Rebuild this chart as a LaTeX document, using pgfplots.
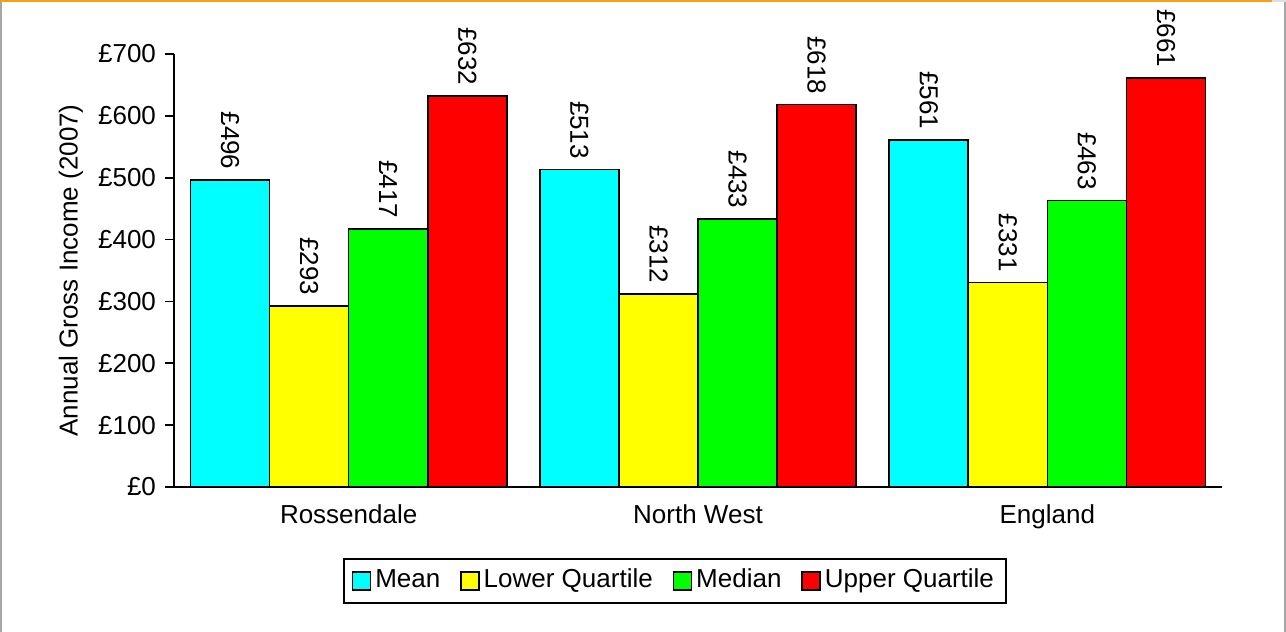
\documentclass[border=0pt]{standalone}
\usepackage{pgfplots}
\pgfplotsset{compat=1.18}
\usepackage{fontspec}
\setmainfont{Liberation Sans}

\definecolor{meanc}{RGB}{0,255,255}
\definecolor{lowq}{RGB}{255,255,0}
\definecolor{medc}{RGB}{0,255,0}
\definecolor{upq}{RGB}{255,0,0}
\definecolor{frameorange}{RGB}{245,160,20}

\begin{document}
\fontsize{13}{15.6}\selectfont
\begin{tikzpicture}
\useasboundingbox (0,0) rectangle (643pt,316pt);
% outer chart frame
\draw[gray!70, line width=1pt] (0.5pt,0) -- (0.5pt,316pt);
\draw[gray!70, line width=0.8pt] (642.6pt,0) -- (642.6pt,316pt);
\draw[gray!25, line width=1pt] (0,315.5pt) -- (643pt,315.5pt);
\draw[frameorange, line width=1.2pt] (0,315.4pt) -- (636pt,315.4pt);

\begin{axis}[
  at={(87pt,72.5pt)}, anchor=south west,
  scale only axis,
  width=524pt, height=216.5pt,
  xmin=-0.5, xmax=2.5,
  ymin=0, ymax=700,
  axis x line*=bottom, axis y line*=left,
  axis line style={line width=0.9pt},
  ybar=0pt,
  bar width=0.2264,
  xtick={0,1,2},
  xticklabels={Rossendale, North West, England},
  xtick style={draw=none},
  minor xtick={-0.5,0.5,1.5,2.5},
  minor x tick style={line width=0.9pt, black},
  ytick={0,100,...,700},
  ytick style={line width=0.9pt, black},
  tick align=outside,
  major tick length=4.5pt,
  minor tick length=4.5pt,
  /pgf/number format/assume math mode=true,
  yticklabel={£\pgfmathprintnumber{\tick}},
  ylabel={Annual Gross Income (2007)},
  every axis y label/.style={at={(axis description cs:-0.0985,0.5)}, rotate=90, anchor=center},
  nodes near coords={£\pgfmathprintnumber{\pgfplotspointmeta}},
  every node near coord/.append style={rotate=-90, anchor=east, inner xsep=5pt, inner ysep=0pt, black},
  legend columns=4,
  legend style={at={(rel axis cs:0.478,-0.2171)}, anchor=center,
    draw=black, line width=0.8pt,
    inner xsep=4pt, inner ysep=3pt,
    nodes={text height=0.72em, text depth=0.22em},
    /tikz/every even column/.append style={column sep=8pt}},
  legend image code/.code={\draw[#1, line width=0.7pt] (0pt,-4.5pt) rectangle (9pt,4.5pt);},
]
\addplot[fill=meanc, draw=black, line width=0.75pt, bar shift=-0.3396]
  coordinates {(0,496) (1,513) (2,561)};
\addplot[fill=lowq, draw=black, line width=0.75pt, bar shift=-0.1132]
  coordinates {(0,293) (1,312) (2,331)};
\addplot[fill=medc, draw=black, line width=0.75pt, bar shift=0.1132]
  coordinates {(0,417) (1,433) (2,463)};
\addplot[fill=upq, draw=black, line width=0.75pt, bar shift=0.3396]
  coordinates {(0,632) (1,618) (2,661)};
\legend{Mean, Lower Quartile, Median, Upper Quartile}
\end{axis}
\end{tikzpicture}
\end{document}
